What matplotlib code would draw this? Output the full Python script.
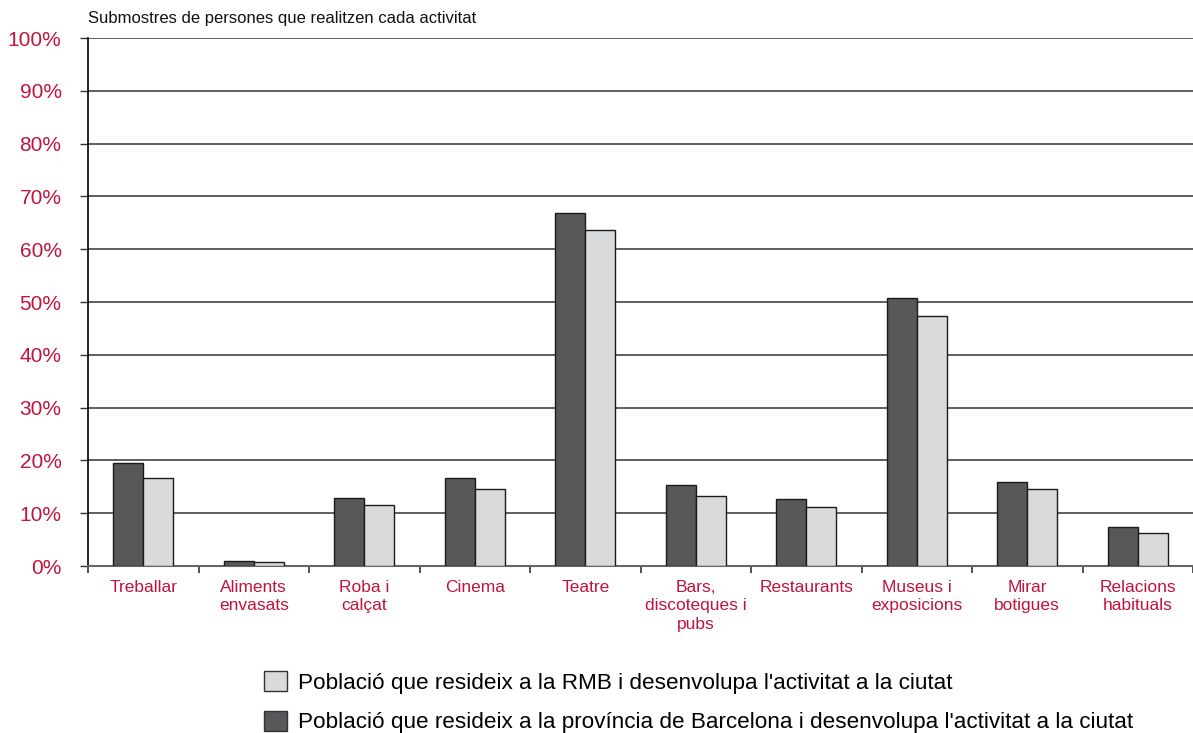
import matplotlib
matplotlib.use("Agg")
import matplotlib.pyplot as plt
import numpy as np
from matplotlib.patches import Patch

plt.rcParams['font.family'] = ['Liberation Sans', 'DejaVu Sans']

categories = ["Treballar", "Aliments\nenvasats", "Roba i\ncalçat", "Cinema", "Teatre",
              "Bars,\ndiscoteques i\npubs", "Restaurants", "Museus i\nexposicions",
              "Mirar\nbotigues", "Relacions\nhabituals"]
provincia = [19.5, 0.95, 12.9, 16.7, 66.8, 15.3, 12.6, 50.8, 15.9, 7.3]
rmb = [16.7, 0.75, 11.6, 14.6, 63.6, 13.3, 11.1, 47.4, 14.5, 6.3]
yticks = [0, 10, 20, 30, 40, 50, 60, 70, 80, 90, 100]
ytick_labels = [f"{v}%" for v in yticks]
label_rmb = "Població que resideix a la RMB i desenvolupa l'activitat a la ciutat"
label_prov = "Població que resideix a la província de Barcelona i desenvolupa l'activitat a la ciutat"

red = '#c0143c'
dark = '#58585a'
light = '#d9dadc'

fig = plt.figure(figsize=(11.93, 7.33), dpi=100)
ax = fig.add_axes([88/1193, 1-566/733, 1-88/1193, (566-38)/733])

x = np.arange(len(categories))
w = 0.272
ax.bar(x - w/2, provincia, w, color=dark, edgecolor='#1a1a1a', linewidth=1.0, zorder=3)
ax.bar(x + w/2, rmb, w, color=light, edgecolor='#1a1a1a', linewidth=1.0, zorder=3)

ax.set_xlim(-0.5, len(categories) - 0.5)
ax.set_ylim(0, 100)
ax.set_yticks(yticks)
ax.set_yticklabels(ytick_labels, color=red, fontsize=15)
ax.yaxis.grid(True, color='#333333', linewidth=1.1, zorder=0)
ax.set_axisbelow(True)
ax.tick_params(axis='y', length=6, width=1.0, color='#333333', pad=13)

ax.set_xticks(x)
ax.set_xticklabels(categories, color=red, fontsize=12.5, linespacing=1.3, va='top')
ax.tick_params(axis='x', length=0, pad=10)
ax.set_xticks(np.arange(len(categories) + 1) - 0.5, minor=True)
ax.tick_params(axis='x', which='minor', length=5, width=1.2, color='#333333', direction='out')

for s in ['top', 'right']:
    ax.spines[s].set_visible(False)
ax.spines['left'].set_color('black')
ax.spines['left'].set_linewidth(1.2)
ax.spines['bottom'].set_color('#666666')
ax.spines['bottom'].set_linewidth(1.5)

fig.text(88/1193, 1-18/733, "Submostres de persones que realitzen cada activitat",
         fontsize=12, color='#111111', va='center', ha='left')

handles = [Patch(facecolor=light, edgecolor='#333333', linewidth=1.0, label=label_rmb),
           Patch(facecolor=dark, edgecolor='#333333', linewidth=1.0, label=label_prov)]
fig.legend(handles=handles, loc='upper left', bbox_to_anchor=(264/1193, 1-671/733),
           frameon=False, fontsize=16.2, handlelength=1.0, handleheight=1.0,
           labelspacing=0.75, handletextpad=0.5, borderaxespad=0, borderpad=0)

fig.savefig("out.png", dpi=100)
